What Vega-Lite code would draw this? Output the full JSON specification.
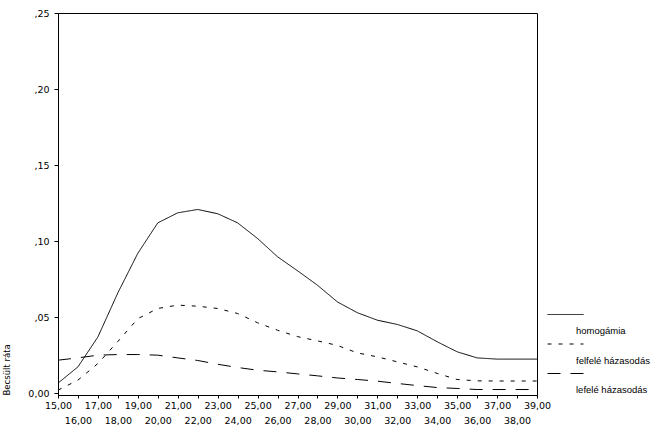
{
  "$schema": "https://vega.github.io/schema/vega-lite/v6.json",
  "width": 479,
  "height": 382,
  "autosize": "none",
  "padding": {"left": 58, "top": 13, "right": 122, "bottom": 32},
  "background": "white",
  "config": {
    "view": {"stroke": "black", "strokeWidth": 1},
    "font": "DejaVu Sans"
  },
  "datasets": {
    "d": [
      {"age": 15, "series": "homogámia", "rate": 0.0066},
      {"age": 16, "series": "homogámia", "rate": 0.0173},
      {"age": 17, "series": "homogámia", "rate": 0.037},
      {"age": 18, "series": "homogámia", "rate": 0.066},
      {"age": 19, "series": "homogámia", "rate": 0.092},
      {"age": 20, "series": "homogámia", "rate": 0.112},
      {"age": 21, "series": "homogámia", "rate": 0.1186},
      {"age": 22, "series": "homogámia", "rate": 0.1208},
      {"age": 23, "series": "homogámia", "rate": 0.118},
      {"age": 24, "series": "homogámia", "rate": 0.112},
      {"age": 25, "series": "homogámia", "rate": 0.1017},
      {"age": 26, "series": "homogámia", "rate": 0.0897},
      {"age": 27, "series": "homogámia", "rate": 0.0805},
      {"age": 28, "series": "homogámia", "rate": 0.071},
      {"age": 29, "series": "homogámia", "rate": 0.060},
      {"age": 30, "series": "homogámia", "rate": 0.0529},
      {"age": 31, "series": "homogámia", "rate": 0.048},
      {"age": 32, "series": "homogámia", "rate": 0.0452},
      {"age": 33, "series": "homogámia", "rate": 0.041},
      {"age": 34, "series": "homogámia", "rate": 0.0338},
      {"age": 35, "series": "homogámia", "rate": 0.0272},
      {"age": 36, "series": "homogámia", "rate": 0.0232},
      {"age": 37, "series": "homogámia", "rate": 0.0224},
      {"age": 38, "series": "homogámia", "rate": 0.0224},
      {"age": 39, "series": "homogámia", "rate": 0.0224},
      {"age": 15, "series": "felfelé házasodás", "rate": 0.002},
      {"age": 16, "series": "felfelé házasodás", "rate": 0.0086},
      {"age": 17, "series": "felfelé házasodás", "rate": 0.0195},
      {"age": 18, "series": "felfelé házasodás", "rate": 0.034},
      {"age": 19, "series": "felfelé házasodás", "rate": 0.049},
      {"age": 20, "series": "felfelé házasodás", "rate": 0.0557},
      {"age": 21, "series": "felfelé házasodás", "rate": 0.0579},
      {"age": 22, "series": "felfelé házasodás", "rate": 0.0572},
      {"age": 23, "series": "felfelé házasodás", "rate": 0.0557},
      {"age": 24, "series": "felfelé házasodás", "rate": 0.0524},
      {"age": 25, "series": "felfelé házasodás", "rate": 0.0463},
      {"age": 26, "series": "felfelé házasodás", "rate": 0.0414},
      {"age": 27, "series": "felfelé házasodás", "rate": 0.0372},
      {"age": 28, "series": "felfelé házasodás", "rate": 0.0344},
      {"age": 29, "series": "felfelé házasodás", "rate": 0.0314},
      {"age": 30, "series": "felfelé házasodás", "rate": 0.0265},
      {"age": 31, "series": "felfelé házasodás", "rate": 0.0239},
      {"age": 32, "series": "felfelé házasodás", "rate": 0.0206},
      {"age": 33, "series": "felfelé házasodás", "rate": 0.0173},
      {"age": 34, "series": "felfelé házasodás", "rate": 0.013},
      {"age": 35, "series": "felfelé házasodás", "rate": 0.009},
      {"age": 36, "series": "felfelé házasodás", "rate": 0.0081},
      {"age": 37, "series": "felfelé házasodás", "rate": 0.008},
      {"age": 38, "series": "felfelé házasodás", "rate": 0.008},
      {"age": 39, "series": "felfelé házasodás", "rate": 0.008},
      {"age": 15, "series": "lefelé házasodás", "rate": 0.0217},
      {"age": 16, "series": "lefelé házasodás", "rate": 0.0232},
      {"age": 17, "series": "lefelé házasodás", "rate": 0.025},
      {"age": 18, "series": "lefelé házasodás", "rate": 0.0254},
      {"age": 19, "series": "lefelé házasodás", "rate": 0.0254},
      {"age": 20, "series": "lefelé házasodás", "rate": 0.025},
      {"age": 21, "series": "lefelé házasodás", "rate": 0.0232},
      {"age": 22, "series": "lefelé házasodás", "rate": 0.0215},
      {"age": 23, "series": "lefelé házasodás", "rate": 0.019},
      {"age": 24, "series": "lefelé házasodás", "rate": 0.0169},
      {"age": 25, "series": "lefelé házasodás", "rate": 0.0151},
      {"age": 26, "series": "lefelé házasodás", "rate": 0.014},
      {"age": 27, "series": "lefelé házasodás", "rate": 0.0127},
      {"age": 28, "series": "lefelé házasodás", "rate": 0.0114},
      {"age": 29, "series": "lefelé házasodás", "rate": 0.010},
      {"age": 30, "series": "lefelé házasodás", "rate": 0.009},
      {"age": 31, "series": "lefelé házasodás", "rate": 0.0079},
      {"age": 32, "series": "lefelé házasodás", "rate": 0.0064},
      {"age": 33, "series": "lefelé házasodás", "rate": 0.005},
      {"age": 34, "series": "lefelé házasodás", "rate": 0.0037},
      {"age": 35, "series": "lefelé házasodás", "rate": 0.0031},
      {"age": 36, "series": "lefelé házasodás", "rate": 0.0024},
      {"age": 37, "series": "lefelé házasodás", "rate": 0.0024},
      {"age": 38, "series": "lefelé házasodás", "rate": 0.0024},
      {"age": 39, "series": "lefelé házasodás", "rate": 0.0024}
    ]
  },
  "data": {"name": "d"},
  "mark": {"type": "line", "color": "black", "strokeWidth": 1, "interpolate": "linear"},
  "encoding": {
    "x": {
      "field": "age",
      "type": "quantitative",
      "scale": {"domain": [15, 39], "nice": false, "zero": false},
      "axis": {
        "title": null,
        "values": [15,16,17,18,19,20,21,22,23,24,25,26,27,28,29,30,31,32,33,34,35,36,37,38,39],
        "labelExpr": "datum.value % 2 == 0 ? ['', replace(format(datum.value, '.2f'), '.', ',')] : replace(format(datum.value, '.2f'), '.', ',')",
        "labelLineHeight": 15,
        "labelFont": "DejaVu Sans",
        "labelFontSize": 9.5,
        "labelColor": "black",
        "labelPadding": 2,
        "labelOverlap": false,
        "labelFlush": false,
        "tickSize": 3,
        "tickColor": "black",
        "domainColor": "black",
        "grid": false
      }
    },
    "y": {
      "field": "rate",
      "type": "quantitative",
      "scale": {"domain": [-0.0012, 0.25], "nice": false, "zero": false},
      "axis": {
        "title": "Becsült ráta",
        "titleFont": "DejaVu Sans",
        "titleFontSize": 8.5,
        "titleFontWeight": "normal",
        "titleColor": "black",
        "titleAnchor": "start",
        "titleX": -47,
        "values": [0, 0.05, 0.1, 0.15, 0.2, 0.25],
        "labelExpr": "datum.value == 0 ? '0,00' : replace(format(datum.value, '.2f'), '0.', ',')",
        "labelFont": "DejaVu Sans",
        "labelFontSize": 9.5,
        "labelColor": "black",
        "labelPadding": 5,
        "tickSize": 4,
        "tickColor": "black",
        "domainColor": "black",
        "grid": false
      }
    },
    "strokeDash": {
      "field": "series",
      "type": "nominal",
      "scale": {
        "domain": ["homogámia", "felfelé házasodás", "lefelé házasodás"],
        "range": [[1, 0], [4, 7], [13, 10]]
      },
      "legend": {
        "title": null,
        "orient": "none",
        "legendX": 501,
        "legendY": 295,
        "symbolType": "M-3,0L3,0",
        "symbolSize": 144,
        "symbolStrokeColor": "black",
        "symbolStrokeWidth": 1,
        "labelExpr": "['', datum.label]",
        "labelBaseline": "top",
        "labelOffset": 4,
        "labelFont": "Liberation Sans",
        "labelFontSize": 9.5,
        "labelColor": "black",
        "rowPadding": 1.5
      }
    }
  }
}
